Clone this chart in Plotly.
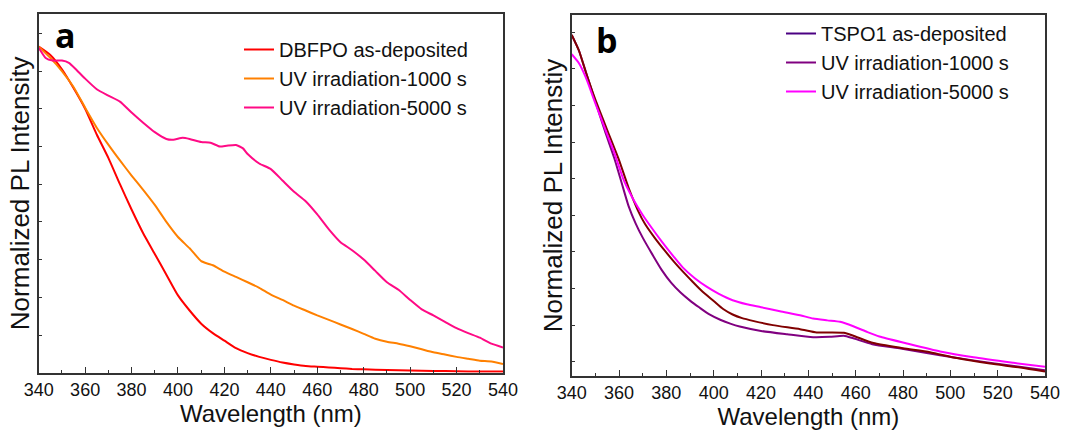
import plotly.graph_objects as go

# ---------------- Panel a data ----------------
wl_a_red = [340, 345, 350, 355, 360, 365, 370, 375, 380, 385, 390, 395, 400, 405, 410, 415, 420,
            425, 430, 435, 440, 445, 450, 455, 460, 465, 470, 475, 480, 490, 500, 510, 520, 530, 540]
dbfpo_asdep = [0.865, 0.843, 0.805, 0.755, 0.70, 0.632, 0.57, 0.50, 0.433, 0.37, 0.315, 0.26, 0.205,
               0.165, 0.13, 0.105, 0.085, 0.065, 0.052, 0.042, 0.034, 0.027, 0.022, 0.018, 0.016,
               0.014, 0.012, 0.010, 0.009, 0.007, 0.006, 0.0045, 0.004, 0.003, 0.003]

wl_a_orange = [340, 345, 350, 355, 360, 365, 370, 375, 380, 385, 390, 395, 400, 405, 410, 413, 415,
               420, 425, 430, 435, 440, 445, 450, 455, 460, 465, 470, 475, 480, 485, 490, 495, 500,
               505, 510, 515, 520, 525, 530, 535, 540]
dbfpo_1000 = [0.865, 0.835, 0.80, 0.758, 0.703, 0.65, 0.605, 0.563, 0.523, 0.485, 0.445, 0.40, 0.36,
              0.33, 0.296, 0.289, 0.285, 0.268, 0.254, 0.24, 0.225, 0.207, 0.193, 0.178, 0.165,
              0.152, 0.14, 0.128, 0.116, 0.103, 0.09, 0.082, 0.077, 0.07, 0.062, 0.054, 0.048,
              0.042, 0.037, 0.032, 0.030, 0.023]

wl_a_pink = [340, 343, 346, 350, 353, 356, 360, 365, 370, 375, 380, 385, 390, 395, 398, 402, 405,
             410, 414, 418, 421, 425, 428, 430, 435, 440, 445, 450, 455, 460, 465, 470, 475, 480,
             485, 490, 495, 500, 505, 510, 515, 520, 525, 530, 535, 540]
dbfpo_5000 = [0.862, 0.835, 0.828, 0.828, 0.822, 0.805, 0.78, 0.752, 0.735, 0.719, 0.69, 0.663,
              0.638, 0.62, 0.618, 0.623, 0.62, 0.612, 0.610, 0.600, 0.602, 0.604, 0.595, 0.58,
              0.555, 0.54, 0.51, 0.48, 0.455, 0.42, 0.38, 0.346, 0.325, 0.30, 0.27, 0.24, 0.22,
              0.193, 0.168, 0.152, 0.135, 0.118, 0.105, 0.093, 0.077, 0.067]

# ---------------- Panel b data ----------------
wl_b_asdep = [340, 343, 346, 350, 354, 358, 361, 364, 367, 370, 374, 378, 382, 386, 390, 394, 398,
              403, 407, 411, 420, 431, 442, 449, 455, 459, 467, 479, 490, 501, 518, 540]
tspo1_asdep = [0.932, 0.89, 0.83, 0.75, 0.67, 0.595, 0.53, 0.465, 0.417, 0.378, 0.333, 0.29, 0.255,
               0.228, 0.206, 0.187, 0.169, 0.153, 0.143, 0.135, 0.123, 0.114, 0.106, 0.107, 0.110,
               0.103, 0.087, 0.075, 0.063, 0.051, 0.035, 0.016]

wl_b_1000 = [340, 343, 346, 350, 355, 360, 364, 368, 371, 375, 379, 383, 387, 391, 395, 400, 404,
             408, 412, 417, 425, 436.5, 443.5, 449, 455, 459, 467.5, 480, 491.4, 502.7, 516.8,
             529.5, 540]
tspo1_1000 = [0.932, 0.89, 0.83, 0.755, 0.672, 0.59, 0.515, 0.452, 0.415, 0.378, 0.345, 0.314,
              0.285, 0.258, 0.232, 0.205, 0.183, 0.168, 0.158, 0.150, 0.139, 0.128, 0.119, 0.119,
              0.118, 0.110, 0.090, 0.076, 0.065, 0.049, 0.034, 0.023, 0.012]

wl_b_5000 = [340, 343, 346, 350, 355, 358, 362, 366, 370, 374, 378, 383, 387, 392, 397, 402, 408,
             414, 420, 428, 436.5, 442, 448, 453.4, 459, 465, 470, 481.6, 495.7, 509.8, 526.7, 540]
tspo1_5000 = [0.879, 0.855, 0.815, 0.745, 0.66, 0.61, 0.535, 0.483, 0.44, 0.403, 0.368, 0.327,
              0.296, 0.267, 0.244, 0.225, 0.207, 0.196, 0.188, 0.177, 0.166, 0.157, 0.152, 0.148,
              0.136, 0.12, 0.108, 0.089, 0.067, 0.051, 0.036, 0.025]

x_ticks = [340, 360, 380, 400, 420, 440, 460, 480, 500, 520, 540]

names_a = ["DBFPO as-deposited", "UV irradiation-1000 s", "UV irradiation-5000 s"]
names_b = ["TSPO1 as-deposited", "UV irradiation-1000 s", "UV irradiation-5000 s"]
colors_a = ["#ff0000", "#ff8000", "#ff0a85"]
colors_b_plot = ["#800080", "#800000", "#ff00ff"]
colors_b_legend = ["#4b0082", "#800080", "#ff00ff"]

W, H = 1078, 431
FONT = "Liberation Sans, Arial, sans-serif"
AX = "#333333"

fig = go.Figure()

for wl, vals, name, col in zip([wl_a_red, wl_a_orange, wl_a_pink],
                               [dbfpo_asdep, dbfpo_1000, dbfpo_5000], names_a, colors_a):
    fig.add_trace(go.Scatter(x=wl, y=vals, name=name, mode="lines",
                             line=dict(color=col, width=2, shape="spline", smoothing=0.5),
                             xaxis="x", yaxis="y", legend="legend"))

for wl, vals, name, col in zip([wl_b_asdep, wl_b_1000, wl_b_5000],
                               [tspo1_asdep, tspo1_1000, tspo1_5000], names_b, colors_b_plot):
    fig.add_trace(go.Scatter(x=wl, y=vals, name=name, mode="lines", showlegend=False,
                             line=dict(color=col, width=2, shape="spline", smoothing=0.6),
                             xaxis="x2", yaxis="y2"))
# legend entries for panel b
for name, col in zip(names_b, colors_b_legend):
    fig.add_trace(go.Scatter(x=[None], y=[None], name=name, mode="lines",
                             line=dict(color=col, width=2),
                             xaxis="x2", yaxis="y2", legend="legend2"))

def xax(domain, anchor):
    return dict(domain=domain, anchor=anchor, range=[340, 540], tickvals=x_ticks,
                ticks="inside", ticklen=6, tickwidth=1.2, tickcolor=AX,
                minor=dict(dtick=10, tick0=340, ticks="inside", ticklen=3, tickwidth=1.2, tickcolor=AX),
                showline=True, linecolor=AX, linewidth=1.5, mirror=True, showgrid=False,
                zeroline=False, tickfont=dict(family=FONT, size=18, color="#111"),
                title=dict(text="Wavelength (nm)", font=dict(family=FONT, size=24, color="#111"),
                           standoff=2),
                automargin=False)

def yax(domain, anchor, rng, tick0, title, standoff):
    return dict(domain=domain, anchor=anchor, range=rng, tick0=tick0, dtick=0.1,
                ticks="inside", ticklen=4, tickwidth=1.2, tickcolor=AX, showticklabels=False,
                showline=True, linecolor=AX, linewidth=1.5, mirror=True, showgrid=False,
                zeroline=False,
                title=dict(text=title, font=dict(family=FONT, size=26, color="#111"),
                           standoff=standoff),
                automargin=False)

fig.update_layout(
    width=W, height=H,
    margin=dict(l=0, r=0, t=0, b=0),
    paper_bgcolor="white", plot_bgcolor="white",
    xaxis=xax([38.7 / W, 503 / W], "y"),
    yaxis=yax([1 - 372.7 / H, 1 - 14 / H], "x", [0, 0.9515], 0, "Normalized PL Intensity", 0),
    xaxis2=xax([571.7 / W, 1045 / W], "y2"),
    yaxis2=yax([1 - 376 / H, 1 - 15 / H], "x2", [0, 0.9863], 0.039, "Normalized PL Intenstiy", 0),
    legend=dict(x=(279 - 40) / W, y=1 - 30 / H, xanchor="left", yanchor="top",
                font=dict(family=FONT, size=20, color="#111"), bgcolor="rgba(0,0,0,0)",
                borderwidth=0, tracegroupgap=0),
    legend2=dict(x=(821 - 40) / W, y=1 - 14 / H, xanchor="left", yanchor="top",
                 font=dict(family=FONT, size=20, color="#111"), bgcolor="rgba(0,0,0,0)",
                 borderwidth=0, tracegroupgap=0),
    annotations=[
        dict(text="<b>a</b>", x=65 / W, y=1 - 35 / H, xref="paper", yref="paper",
             xanchor="center", yanchor="middle",
             showarrow=False, font=dict(family="Open Sans, sans-serif", size=34, color="#000")),
        dict(text="<b>b</b>", x=607 / W, y=1 - 40 / H, xref="paper", yref="paper",
             xanchor="center", yanchor="middle",
             showarrow=False, font=dict(family="Open Sans, sans-serif", size=34, color="#000")),
    ],
)

fig.write_html("out.html", config={"displayModeBar": False},
               post_script="document.body.style.margin='0';")
